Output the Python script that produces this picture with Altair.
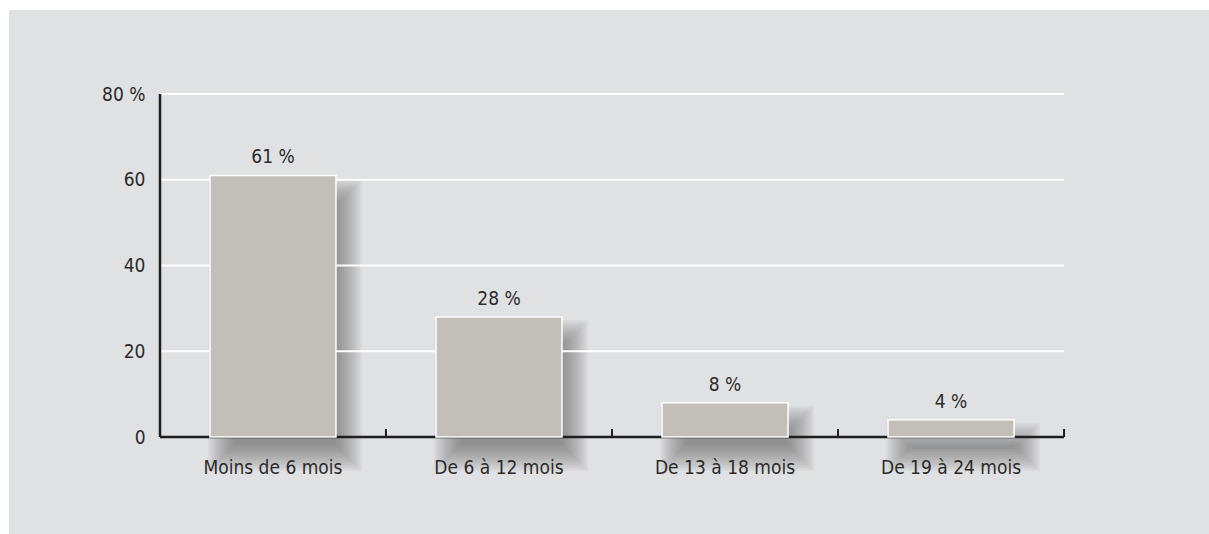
import altair as alt
import pandas as pd

# Data
categories = ["Moins de 6 mois", "De 6 à 12 mois", "De 13 à 18 mois", "De 19 à 24 mois"]
shares = [61, 28, 8, 4]
value_labels = ["61 %", "28 %", "8 %", "4 %"]
grid_values = [20, 40, 60, 80]
y_ticks = [0, 20, 40, 60, 80]

df = pd.DataFrame({"periode": categories, "part": shares, "label": value_labels})
grid_df = pd.DataFrame({"v": grid_values})
yline_df = pd.DataFrame({"lo": [0], "hi": [80]})

W, H = 904, 343
PX_PER_UNIT = H / 80
FONT = "DejaVu Sans Condensed"
FS = 19
TEXT = "#2b2b2b"
PANEL = "#e0e1e3"
BAR = "#c2bfb8"

x_scale = alt.Scale(domain=categories, paddingInner=0.4425, paddingOuter=0.221)
y_scale = alt.Scale(domain=[0, 80], nice=False, zero=True)

x_axis = alt.Axis(
    title=None, labelAngle=0, domain=False, ticks=False, grid=False,
    labelFont=FONT, labelFontSize=FS, labelColor=TEXT, labelPadding=21,
    labelBaseline="top", zindex=1,
)
y_axis = alt.Axis(
    title=None, values=y_ticks, domain=False, ticks=False, grid=False,
    labelFont=FONT, labelFontSize=FS, labelColor=TEXT, labelPadding=15,
    labelExpr="datum.value == 80 ? '80 %' : datum.label", zindex=1,
)

x_enc = alt.X("periode:N", scale=x_scale, sort=categories, axis=x_axis)


def y_field(name):
    return alt.Y(name, scale=y_scale, axis=y_axis)


# Light grey panel behind the whole figure
panel = alt.Chart(df).mark_rect(color=PANEL).encode(
    x=alt.value(-151), x2=alt.value(1049), y=alt.value(-84), y2=alt.value(440)
)

# Soft drop shadow built from stacked translucent rectangles, each one a
# little larger than the previous and shifted down/right from its bar
shadow_layers = []
for s in range(-12, 16, 2):
    top_shift = (17 - s) / PX_PER_UNIT
    bottom_shift = (20 + s) / PX_PER_UNIT
    shadow_layers.append(
        alt.Chart(df)
        .transform_calculate(
            s_top=f"datum.part - {top_shift}",
            s_bottom=f"-{bottom_shift}",
        )
        .mark_bar(color="#505458", opacity=0.05, width=126 + 2 * s, xOffset=12)
        .encode(x=x_enc, y=y_field("s_top:Q"), y2="s_bottom:Q")
    )

grid = alt.Chart(grid_df).mark_rule(color="white", strokeWidth=2).encode(
    y=y_field("v:Q"), x=alt.value(0), x2=alt.value(W)
)

y_line = alt.Chart(yline_df).mark_rule(color="#1e1e1e", strokeWidth=2.5).encode(
    x=alt.value(0), y=y_field("lo:Q"), y2="hi:Q"
)
x_line = alt.Chart(yline_df).mark_rule(color="#1e1e1e", strokeWidth=2.5).encode(
    y=y_field("lo:Q"), x=alt.value(0), x2=alt.value(W)
)

# Category separators: small upward ticks at the right edge of each band
ticks = alt.Chart(df).mark_rule(color="#1e1e1e", strokeWidth=2, xOffset=113).encode(
    x=x_enc, y=alt.value(H), y2=alt.value(H - 8)
)

bars = alt.Chart(df).mark_bar(color=BAR, stroke="white", strokeWidth=1.5).encode(
    x=x_enc, y=y_field("part:Q")
)

labels = alt.Chart(df).mark_text(
    font=FONT, fontSize=FS, color=TEXT, baseline="bottom", dy=-8
).encode(x=x_enc, y=y_field("part:Q"), text="label:N")

chart = alt.layer(
    panel, *shadow_layers, grid, y_line, x_line, ticks, bars, labels
).properties(
    width=W, height=H,
    autosize=alt.AutoSizeParams(type="none"),
    padding={"left": 160, "top": 94, "right": 145, "bottom": 97},
    background="white",
).configure_view(stroke=None)

chart.save("out.html", embed_options={"renderer": "svg", "actions": False})
